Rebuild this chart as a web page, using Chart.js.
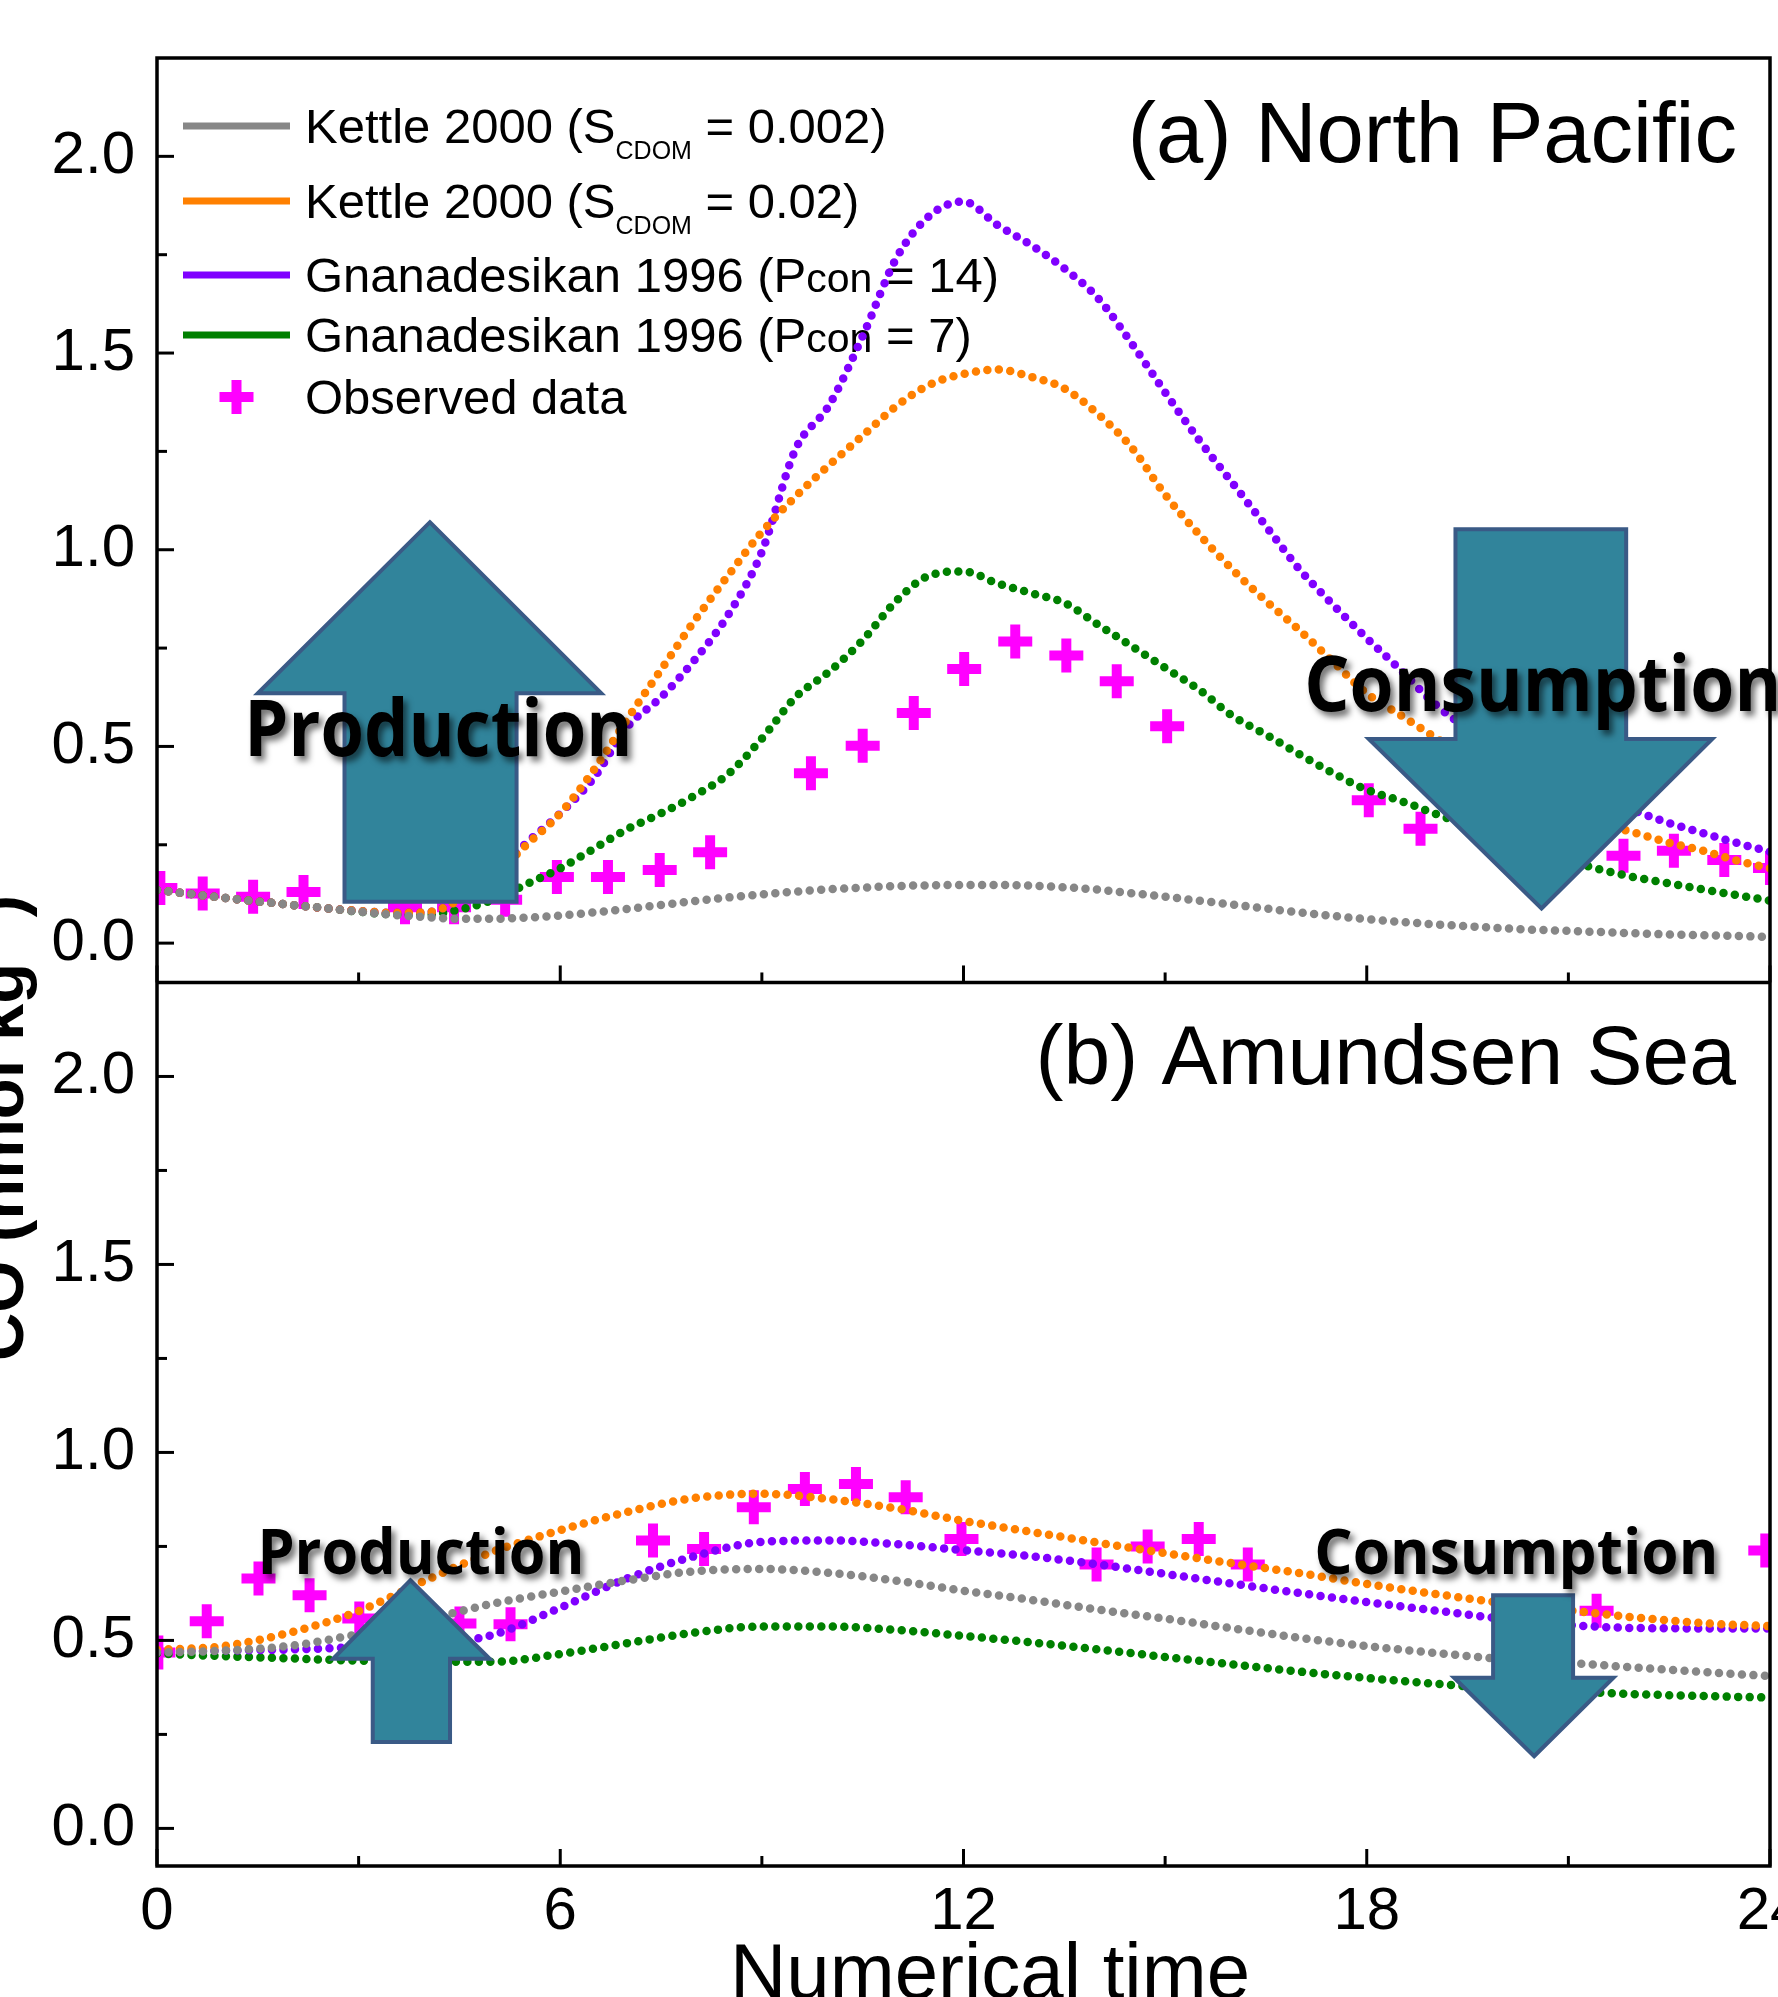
<!DOCTYPE html>
<html>
<head>
<meta charset="utf-8">
<script src="https://cdn.jsdelivr.net/npm/chart.js@4.4.1/dist/chart.umd.min.js"></script>
<style>
  html, body { margin: 0; padding: 0; background: #fff; overflow: hidden; }
  #wrap { position: absolute; left: 0; top: 0; width: 1830px; height: 2000px; }
</style>
</head>
<body>
<div id="wrap"><canvas id="coChart" width="1830" height="2000"></canvas></div>
<script>
// panel (a) North Pacific - model curves, read every half step
const timeA = [0, 0.5, 1, 1.5, 2, 2.5, 3, 3.5, 4, 4.5, 5, 5.5, 6, 6.5, 7, 7.5, 8, 8.5, 9, 9.5, 10, 10.5, 11, 11.5, 12,
  12.5, 13, 13.5, 14, 14.5, 15, 15.5, 16, 16.5, 17, 17.5, 18, 18.5, 19, 19.5, 20, 20.5, 21, 21.5, 22, 22.5, 23, 23.5, 24];
const grayA = [0.135, 0.125, 0.115, 0.106, 0.097, 0.089, 0.080, 0.072, 0.066, 0.062, 0.062, 0.065, 0.070, 0.078, 0.087, 0.097, 0.107, 0.116, 0.124, 0.131, 0.137, 0.141, 0.145, 0.147, 0.148,
  0.148, 0.146, 0.142, 0.136, 0.127, 0.118, 0.108, 0.098, 0.088, 0.078, 0.069, 0.061, 0.054, 0.048, 0.043, 0.038, 0.034, 0.031, 0.028, 0.025, 0.022, 0.020, 0.018, 0.016];
const orangeA = [0.135, 0.125, 0.115, 0.106, 0.097, 0.089, 0.082, 0.077, 0.078, 0.110, 0.170, 0.250, 0.330, 0.440, 0.570, 0.695, 0.820, 0.935, 1.045, 1.135, 1.215, 1.290, 1.365, 1.420, 1.447,
  1.458, 1.440, 1.410, 1.345, 1.260, 1.140, 1.040, 0.950, 0.870, 0.795, 0.715, 0.635, 0.580, 0.525, 0.470, 0.420, 0.375, 0.340, 0.305, 0.280, 0.255, 0.235, 0.210, 0.190];
const purpleA = [0.135, 0.125, 0.115, 0.106, 0.097, 0.089, 0.082, 0.077, 0.078, 0.112, 0.175, 0.255, 0.330, 0.420, 0.550, 0.625, 0.720, 0.835, 0.995, 1.255, 1.367, 1.543, 1.741, 1.850, 1.885,
  1.826, 1.775, 1.715, 1.640, 1.525, 1.400, 1.280, 1.170, 1.060, 0.950, 0.860, 0.775, 0.695, 0.610, 0.545, 0.490, 0.440, 0.400, 0.365, 0.335, 0.305, 0.280, 0.255, 0.232];
const greenA = [0.135, 0.125, 0.115, 0.106, 0.097, 0.089, 0.080, 0.073, 0.072, 0.085, 0.110, 0.150, 0.190, 0.240, 0.290, 0.330, 0.375, 0.430, 0.520, 0.625, 0.690, 0.770, 0.870, 0.935, 0.945,
  0.915, 0.890, 0.865, 0.810, 0.755, 0.700, 0.645, 0.578, 0.530, 0.480, 0.432, 0.390, 0.362, 0.330, 0.298, 0.265, 0.235, 0.210, 0.186, 0.167, 0.152, 0.137, 0.122, 0.108];
const obsTimeA = [0.05, 0.68, 1.43, 2.18, 3.69, 4.42, 5.18, 5.95, 6.71, 7.48, 8.23, 9.73, 10.50, 11.26, 12.01, 12.77, 13.53, 14.28, 15.03, 18.03, 18.80, 21.82, 22.57, 23.32, 24.00];
const obsA = [0.140, 0.126, 0.118, 0.130, 0.091, 0.091, 0.110, 0.168, 0.168, 0.186, 0.231, 0.432, 0.502, 0.585, 0.697, 0.767, 0.731, 0.666, 0.551, 0.363, 0.291, 0.222, 0.235, 0.211, 0.191];

// panel (b) Amundsen Sea
const timeB = [0, 1, 2, 3, 4, 5, 6, 7, 8, 9, 10, 11, 12, 13, 14, 15, 16, 17, 18, 19, 20, 21, 22, 23, 24];
const grayB = [0.468, 0.473, 0.486, 0.517, 0.555, 0.598, 0.630, 0.660, 0.684, 0.690, 0.680, 0.659, 0.632, 0.608, 0.582, 0.558, 0.532, 0.507, 0.485, 0.467, 0.451, 0.440, 0.428, 0.416, 0.405];
const orangeB = [0.475, 0.485, 0.522, 0.578, 0.660, 0.736, 0.793, 0.842, 0.879, 0.890, 0.876, 0.851, 0.818, 0.789, 0.760, 0.732, 0.705, 0.679, 0.650, 0.624, 0.600, 0.580, 0.561, 0.546, 0.538];
const purpleB = [0.472, 0.473, 0.476, 0.482, 0.488, 0.515, 0.587, 0.665, 0.724, 0.762, 0.766, 0.756, 0.740, 0.724, 0.702, 0.677, 0.651, 0.626, 0.602, 0.580, 0.558, 0.541, 0.533, 0.532, 0.532];
const greenB = [0.465, 0.458, 0.452, 0.446, 0.443, 0.443, 0.464, 0.493, 0.521, 0.537, 0.537, 0.528, 0.512, 0.495, 0.476, 0.456, 0.436, 0.417, 0.400, 0.385, 0.372, 0.364, 0.357, 0.352, 0.348];
const obsTimeB = [0.02, 0.74, 1.51, 2.27, 3.01, 4.50, 5.26, 7.38, 8.14, 8.88, 9.64, 10.40, 11.14, 11.97, 13.98, 14.74, 15.50, 16.23, 21.42, 23.93];
const obsB = [0.468, 0.551, 0.665, 0.620, 0.558, 0.545, 0.543, 0.766, 0.743, 0.854, 0.903, 0.916, 0.881, 0.770, 0.702, 0.750, 0.770, 0.702, 0.579, 0.739];

// ticks
const xMajor = [0, 6, 12, 18, 24];
const xMinor = [3, 9, 15, 21];
const yMajor = [0, 0.5, 1.0, 1.5, 2.0];
const yMinor = [0.25, 0.75, 1.25, 1.75];

const seriesNames = ['Kettle 2000 (SCDOM = 0.002)', 'Kettle 2000 (SCDOM = 0.02)',
  'Gnanadesikan 1996 (Pcon = 14)', 'Gnanadesikan 1996 (Pcon = 7)', 'Observed data'];
const seriesColors = ['#878787', '#FF8000', '#8000FF', '#008000', '#FF00FF'];

function pts(xs, ys) {
  return xs.map((t, i) => ({x: t, y: ys[i]}));
}

function curve(label, color, xs, ys, axis) {
  return {
    label: label, data: pts(xs, ys), yAxisID: axis, xAxisID: 'x',
    borderColor: color, borderWidth: 8.5, borderDash: [0, 11.5], borderCapStyle: 'round',
    pointRadius: 0, fill: false, cubicInterpolationMode: 'monotone'
  };
}

function observed(xs, ys, axis) {
  return {
    label: seriesNames[4], data: pts(xs, ys), yAxisID: axis, xAxisID: 'x',
    showLine: false, pointStyle: 'cross', pointRadius: 17, pointBorderWidth: 10,
    borderColor: seriesColors[4], backgroundColor: seriesColors[4], clip: 0
  };
}

// big teal arrows and their captions, in data units
const arrowShapes = [
  {axis: 'yA', tipX: 4.06, tipY: 1.070, headY: 0.635, headL: 1.50, headR: 6.61, shaftL: 2.79, shaftR: 5.35, tailY: 0.105},
  {axis: 'yA', tipX: 20.60, tipY: 0.088, headY: 0.519, headL: 18.03, headR: 23.14, shaftL: 19.32, shaftR: 21.86, tailY: 1.052},
  {axis: 'yB', tipX: 3.77, tipY: 0.660, headY: 0.451, headL: 2.62, headR: 4.95, shaftL: 3.21, shaftR: 4.36, tailY: 0.230},
  {axis: 'yB', tipX: 20.49, tipY: 0.192, headY: 0.401, headL: 19.30, headR: 21.67, shaftL: 19.88, shaftR: 21.07, tailY: 0.620}
];
const processLabels = [
  {axis: 'yA', text: 'Production', x: 1.30, y: 0.475, size: 78, width: 388},
  {axis: 'yA', text: 'Consumption', x: 17.07, y: 0.590, size: 77, width: 477},
  {axis: 'yB', text: 'Production', x: 1.494, y: 0.677, size: 63, width: 327},
  {axis: 'yB', text: 'Consumption', x: 17.22, y: 0.677, size: 63, width: 404}
];

const SANS = '"Liberation Sans", Arial, sans-serif';

function line(ctx, x1, y1, x2, y2) {
  ctx.beginPath(); ctx.moveTo(x1, y1); ctx.lineTo(x2, y2); ctx.stroke();
}

// legend inside panel (a), drawn under the curves
const legendPlugin = {
  id: 'richLegend',
  beforeDatasetsDraw(chart) {
    const ctx = chart.ctx;
    const rows = [126, 201, 275, 335, 397];
    const parts = [
      [['Kettle 2000 (S', 'n'], ['CDOM', 'sub'], [' = 0.002)', 'n']],
      [['Kettle 2000 (S', 'n'], ['CDOM', 'sub'], [' = 0.02)', 'n']],
      [['Gnanadesikan 1996 (P', 'n'], ['con', 'small'], [' = 14)', 'n']],
      [['Gnanadesikan 1996 (P', 'n'], ['con', 'small'], [' = 7)', 'n']],
      [['Observed data', 'n']]
    ];
    ctx.save();
    ctx.fillStyle = '#000';
    ctx.textBaseline = 'alphabetic';
    rows.forEach((ry, i) => {
      if (i < 4) {
        ctx.strokeStyle = seriesColors[i]; ctx.lineWidth = 7; ctx.lineCap = 'butt';
        line(ctx, 183, ry, 290, ry);
      } else {
        ctx.fillStyle = seriesColors[4];
        ctx.fillRect(219.5, ry - 5, 34, 10);
        ctx.fillRect(231.5, ry - 17, 10, 34);
        ctx.fillStyle = '#000';
      }
      let tx = 305;
      const base = ry + 17;
      parts[i].forEach(([s, kind]) => {
        let dy = 0;
        if (kind === 'sub') { ctx.font = '25px ' + SANS; dy = 16; }
        else if (kind === 'small') { ctx.font = '41px ' + SANS; }
        else { ctx.font = '49px ' + SANS; }
        ctx.fillText(s, tx, base + dy);
        tx += ctx.measureText(s).width;
      });
    });
    ctx.restore();
  }
};

// arrows, captions, frame and inward ticks
const overlayPlugin = {
  id: 'overlay',
  afterDatasetsDraw(chart) {
    const ctx = chart.ctx;
    const sx = chart.scales.x;
    ctx.save();
    arrowShapes.forEach(a => {
      const sy = chart.scales[a.axis];
      const X = v => sx.getPixelForValue(v), Y = v => sy.getPixelForValue(v);
      ctx.beginPath();
      ctx.moveTo(X(a.tipX), Y(a.tipY));
      ctx.lineTo(X(a.headR), Y(a.headY));
      ctx.lineTo(X(a.shaftR), Y(a.headY));
      ctx.lineTo(X(a.shaftR), Y(a.tailY));
      ctx.lineTo(X(a.shaftL), Y(a.tailY));
      ctx.lineTo(X(a.shaftL), Y(a.headY));
      ctx.lineTo(X(a.headL), Y(a.headY));
      ctx.closePath();
      ctx.fillStyle = '#31849B';
      ctx.fill();
      ctx.strokeStyle = '#3A5A86';
      ctx.lineWidth = 4;
      ctx.lineJoin = 'miter';
      ctx.stroke();
    });
    processLabels.forEach(p => {
      const sy = chart.scales[p.axis];
      ctx.save();
      ctx.font = 'bold ' + p.size + 'px "Open Sans", "Noto Sans", sans-serif';
      const w = ctx.measureText(p.text).width;
      ctx.translate(sx.getPixelForValue(p.x), sy.getPixelForValue(p.y));
      ctx.scale(p.width / w, 1);
      ctx.shadowColor = 'rgba(0,0,0,0.55)';
      ctx.shadowOffsetX = 4; ctx.shadowOffsetY = 5; ctx.shadowBlur = 6;
      ctx.fillStyle = '#000';
      ctx.textBaseline = 'alphabetic';
      ctx.fillText(p.text, 0, 0);
      ctx.restore();
    });

    const area = chart.chartArea;
    const yA = chart.scales.yA, yB = chart.scales.yB;
    ctx.strokeStyle = '#000';
    ctx.lineWidth = 3;
    ctx.lineCap = 'butt';
    [yA, yB].forEach(sy => {
      yMajor.forEach(v => { const p = sy.getPixelForValue(v); line(ctx, area.left, p, area.left + 17, p); });
      yMinor.forEach(v => { const p = sy.getPixelForValue(v); line(ctx, area.left, p, area.left + 10, p); });
    });
    [yA.bottom, yB.bottom].forEach(by => {
      xMajor.forEach(v => { const p = sx.getPixelForValue(v); line(ctx, p, by, p, by - 17); });
      xMinor.forEach(v => { const p = sx.getPixelForValue(v); line(ctx, p, by, p, by - 10); });
    });
    ctx.lineWidth = 3.5;
    ctx.strokeRect(area.left, area.top, area.right - area.left, area.bottom - area.top);
    line(ctx, area.left, yA.bottom, area.right, yA.bottom);
    ctx.restore();
  },
  afterDraw(chart) {
    const ctx = chart.ctx;
    ctx.save();
    ctx.fillStyle = '#000';
    ctx.textBaseline = 'alphabetic';
    ctx.textAlign = 'right';
    ctx.font = '85px ' + SANS;
    ctx.fillText('(a) North Pacific', 1737, 162);
    ctx.font = '84px ' + SANS;
    ctx.fillText('(b) Amundsen Sea', 1736, 1084);
    ctx.textAlign = 'center';
    ctx.font = '78px ' + SANS;
    ctx.fillText('Numerical time', 990, 1998);

    // shared y title, rotated
    ctx.translate(23, 1128);
    ctx.rotate(-Math.PI / 2);
    ctx.textAlign = 'left';
    const big = 'bold 67px ' + SANS, sup = 'bold 40px ' + SANS;
    ctx.font = big; const w1 = ctx.measureText('CO (nmol kg').width;
    ctx.font = sup; const w2 = ctx.measureText('\u22121').width;
    ctx.font = big; const w3 = ctx.measureText(')').width;
    let tx = -(w1 + w2 + w3) / 2;
    ctx.fillText('CO (nmol kg', tx, 0); tx += w1;
    ctx.font = sup; ctx.fillText('\u22121', tx, -27); tx += w2;
    ctx.font = big; ctx.fillText(')', tx, 0);
    ctx.restore();
  }
};

const yTicks = {autoSkip: false, padding: 22, color: '#000',
  font: {family: SANS, size: 60}, callback: v => Number(v).toFixed(1)};

const ctx = document.getElementById('coChart').getContext('2d');

new Chart(ctx, {
  type: 'line',
  data: {
    datasets: [
      curve(seriesNames[0], seriesColors[0], timeA, grayA, 'yA'),
      curve(seriesNames[1], seriesColors[1], timeA, orangeA, 'yA'),
      curve(seriesNames[2], seriesColors[2], timeA, purpleA, 'yA'),
      curve(seriesNames[3], seriesColors[3], timeA, greenA, 'yA'),
      observed(obsTimeA, obsA, 'yA'),
      curve(seriesNames[0], seriesColors[0], timeB, grayB, 'yB'),
      curve(seriesNames[1], seriesColors[1], timeB, orangeB, 'yB'),
      curve(seriesNames[2], seriesColors[2], timeB, purpleB, 'yB'),
      curve(seriesNames[3], seriesColors[3], timeB, greenB, 'yB'),
      observed(obsTimeB, obsB, 'yB')
    ]
  },
  options: {
    responsive: false,
    animation: false,
    devicePixelRatio: 1,
    layout: {padding: {top: 55, right: 60, left: 0, bottom: 0}},
    plugins: {legend: {display: false}, tooltip: {enabled: false}},
    scales: {
      x: {
        type: 'linear', position: 'bottom', min: 0, max: 24,
        grid: {display: false, drawTicks: false}, border: {display: false},
        afterBuildTicks: s => { s.ticks = xMajor.map(v => ({value: v})); },
        afterFit: s => { s.height = 134; },
        ticks: {autoSkip: false, maxRotation: 0, padding: 10, color: '#000',
          font: {family: SANS, size: 60}, callback: v => String(v)}
      },
      // in a stack the first declared axis sits at the bottom
      yB: {
        type: 'linear', position: 'left', stack: 'panels', stackWeight: 885, min: -0.1, max: 2.25,
        grid: {display: false, drawTicks: false}, border: {display: false},
        afterBuildTicks: s => { s.ticks = yMajor.map(v => ({value: v})); },
        afterFit: s => { s.width = 157; },
        ticks: yTicks
      },
      yA: {
        type: 'linear', position: 'left', stack: 'panels', stackWeight: 926, min: -0.1, max: 2.25,
        grid: {display: false, drawTicks: false}, border: {display: false},
        afterBuildTicks: s => { s.ticks = yMajor.map(v => ({value: v})); },
        afterFit: s => { s.width = 157; },
        ticks: yTicks
      }
    }
  },
  plugins: [legendPlugin, overlayPlugin]
});
</script>
</body>
</html>
